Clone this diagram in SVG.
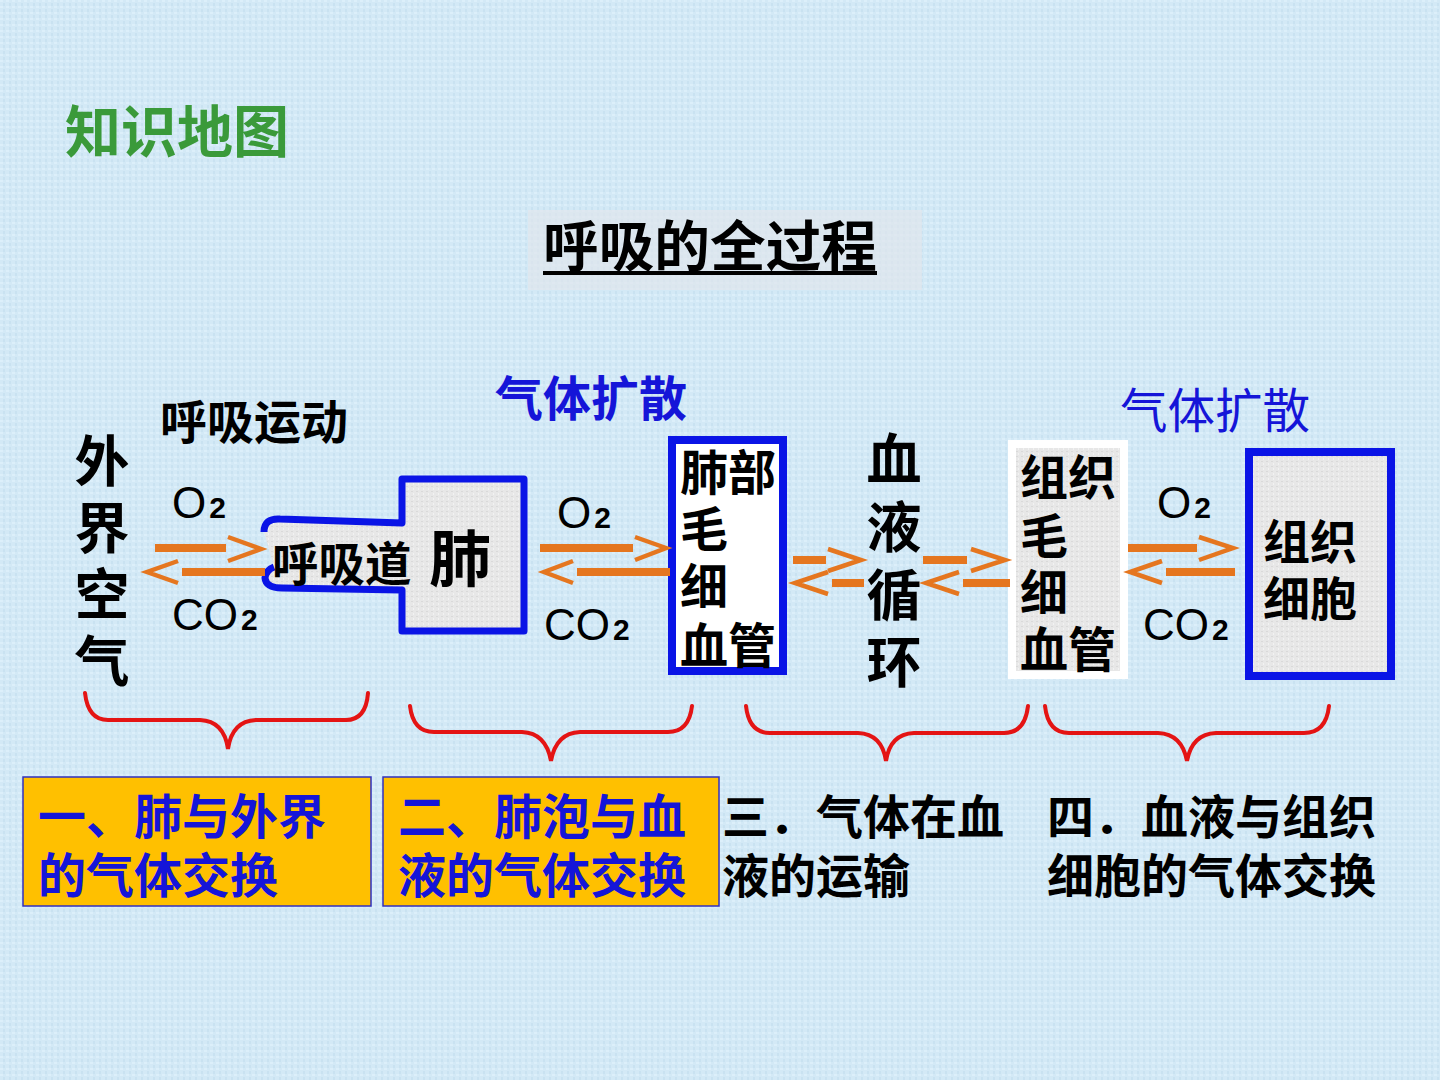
<svg xmlns="http://www.w3.org/2000/svg" width="1440" height="1080" viewBox="0 0 1440 1080">
  <defs>
    <pattern id="bgtex" width="6" height="6" patternUnits="userSpaceOnUse">
      <rect width="6" height="6" fill="#d3e9f6"/>
      <rect x="0" y="0" width="3" height="2" fill="#dcefFa"/>
      <rect x="3" y="3" width="2" height="3" fill="#c9e2f1"/>
    </pattern>
    <pattern id="greytex" width="5" height="5" patternUnits="userSpaceOnUse">
      <rect width="5" height="5" fill="#e7e7e7"/>
      <rect x="1" y="1" width="2" height="1" fill="#d9d9d9"/>
      <rect x="3" y="3" width="1" height="2" fill="#f2f2f2"/>
    </pattern>
    <style>
      .cjk { font-family: "Noto Sans CJK SC", "Noto Sans", sans-serif; }
      .b { font-weight: 700; }
      .blk { fill: #000; }
      .blue { fill: #1515d8; }
      .vert { writing-mode: vertical-rl; text-orientation: upright; }
      .lat { font-family: "Liberation Sans", Arial, sans-serif; fill: #000; }
      .sub { font-size: 30px; font-weight: 700; }
      .line { stroke: #e5761f; stroke-width: 8; fill: none; }
      .dash { stroke: #e5761f; stroke-width: 8; fill: none; }
      .chev { stroke: #e5761f; stroke-width: 4.5; fill: none; stroke-linejoin: miter; stroke-linecap: butt; }
      .brace { stroke: #e41414; stroke-width: 4; fill: none; stroke-linecap: round; }
      .ybox { fill: #ffc000; stroke: #3030c0; stroke-width: 1.5; }
    </style>
  </defs>

  <rect width="1440" height="1080" fill="url(#bgtex)"/>

  <g id="heading">
    <text x="65" y="152" class="cjk b" font-size="56" fill="#3a9a3a">知识地图</text>
  </g>

  <g id="title">
    <rect x="528" y="210" width="394" height="80" fill="#dfe5ec" opacity="0.7"/>
    <text x="543" y="266" class="cjk b blk" font-size="55" textLength="334" lengthAdjust="spacingAndGlyphs">呼吸的全过程</text>
    <rect x="543" y="271" width="334" height="4" fill="#000"/>
  </g>

  <g id="label-breathing">
    <text x="160" y="439" class="cjk b blk" font-size="47">呼吸运动</text>
  </g>

  <g id="label-diffusion-1">
    <text x="495" y="416" class="cjk b blue" font-size="48">气体扩散</text>
  </g>

  <g id="label-diffusion-2">
    <text x="1120" y="428" class="cjk blue" font-size="47.5">气体扩散</text>
  </g>

  <g id="node-outside-air">
    <text x="102" y="433" class="cjk b blk vert" font-size="55" letter-spacing="11.5">外界空气</text>
  </g>

  <g id="node-lung">
    <path d="M264,532 Q264,518 280,519 L402,523 L402,479 L524,479 L524,631 L402,631 L402,590 L282,588 Q266,588 265,578 Q266,570 274,567" fill="url(#greytex)" stroke="#0a14e6" stroke-width="7" stroke-linejoin="round"/>
    <text x="272" y="581" class="cjk b blk" font-size="46.5">呼吸道</text>
    <text x="429" y="582" class="cjk b blk" font-size="62">肺</text>
  </g>

  <g id="node-pulmonary-capillary">
    <rect x="672" y="440" width="111" height="231" fill="#ffffff" stroke="#0a14e6" stroke-width="8"/>
    <text class="cjk b blk" font-size="48"><tspan x="680" y="490">肺部</tspan><tspan x="680" y="547">毛</tspan><tspan x="680" y="604">细</tspan><tspan x="680" y="663">血管</tspan></text>
  </g>

  <g id="node-circulation">
    <text x="894" y="431" class="cjk b blk vert" font-size="55" letter-spacing="12.7">血液循环</text>
  </g>

  <g id="node-tissue-capillary">
    <rect x="1012" y="444" width="112" height="231" fill="url(#greytex)" stroke="#ffffff" stroke-width="8"/>
    <text class="cjk b blk" font-size="48"><tspan x="1020" y="495">组织</tspan><tspan x="1020" y="554">毛</tspan><tspan x="1020" y="610">细</tspan><tspan x="1020" y="667">血管</tspan></text>
  </g>

  <g id="node-tissue-cell">
    <rect x="1249" y="452" width="142" height="224" fill="url(#greytex)" stroke="#0a14e6" stroke-width="8"/>
    <text class="cjk b blk" font-size="47"><tspan x="1263" y="559">组织</tspan><tspan x="1263" y="616">细胞</tspan></text>
  </g>

  <g id="gas-labels">
    <text x="172" y="518" class="lat" font-size="44">O<tspan class="sub" dx="3">2</tspan></text>
    <text x="172" y="630" class="lat" font-size="44">CO<tspan class="sub" dx="3">2</tspan></text>
    <text x="557" y="528" class="lat" font-size="44">O<tspan class="sub" dx="3">2</tspan></text>
    <text x="544" y="640" class="lat" font-size="44">CO<tspan class="sub" dx="3">2</tspan></text>
    <text x="1157" y="518" class="lat" font-size="44">O<tspan class="sub" dx="3">2</tspan></text>
    <text x="1143" y="640" class="lat" font-size="44">CO<tspan class="sub" dx="3">2</tspan></text>
  </g>

  <g id="connectors">
    <line class="line" x1="155" y1="548" x2="226" y2="548"/>
    <polyline class="chev" points="228,537 261,549 228,561"/>
    <line class="line" x1="182" y1="572" x2="265" y2="572"/>
    <polyline class="chev" points="178,561 147,572 178,583"/>

    <line class="line" x1="540" y1="548" x2="633" y2="548"/>
    <polyline class="chev" points="635,537 666,548 635,560"/>
    <line class="line" x1="577" y1="572" x2="670" y2="572"/>
    <polyline class="chev" points="573,561 544,572 573,583"/>

    <line class="dash" x1="793" y1="560" x2="826" y2="560"/>
    <polyline class="chev" points="828,549 861,560 828,571"/>
    <line class="dash" x1="832" y1="583" x2="864" y2="583"/>
    <polyline class="chev" points="828,572 795,583 828,594"/>

    <line class="dash" x1="923" y1="560" x2="967" y2="560"/>
    <polyline class="chev" points="971,549 1005,560 971,571"/>
    <line class="dash" x1="963" y1="583" x2="1010" y2="583"/>
    <polyline class="chev" points="959,572 926,583 959,594"/>

    <line class="line" x1="1128" y1="548" x2="1197" y2="548"/>
    <polyline class="chev" points="1199,537 1233,548 1199,560"/>
    <line class="line" x1="1166" y1="572" x2="1235" y2="572"/>
    <polyline class="chev" points="1162,561 1130,572 1162,583"/>
  </g>

  <g id="braces">
    <path class="brace" d="M85,693 Q88,720 108,720 L200,720 Q224,721 228,749 Q232,721 256,720 L346,720 Q366,720 368,693"/>
    <path class="brace" d="M410,706 Q413,732 434,732 L522,732 Q546,733 551,761 Q556,733 580,732 L668,732 Q689,732 692,706"/>
    <path class="brace" d="M746,706 Q749,733 770,733 L858,733 Q882,734 886,761 Q890,734 914,733 L1004,733 Q1025,733 1028,706"/>
    <path class="brace" d="M1045,706 Q1048,733 1069,733 L1158,733 Q1182,734 1187,761 Q1192,734 1216,733 L1304,733 Q1326,733 1329,706"/>
  </g>

  <g id="stage-1">
    <rect class="ybox" x="23" y="777" width="348" height="129"/>
    <text class="cjk b blue" font-size="48"><tspan x="38" y="834">一、肺与外界</tspan><tspan x="38" y="893">的气体交换</tspan></text>
  </g>

  <g id="stage-2">
    <rect class="ybox" x="383" y="777" width="336" height="129"/>
    <text class="cjk b blue" font-size="48"><tspan x="398" y="834">二、肺泡与血</tspan><tspan x="398" y="893">液的气体交换</tspan></text>
  </g>

  <g id="stage-3">
    <text class="cjk b blk" font-size="47"><tspan x="722" y="834">三．气体在血</tspan><tspan x="722" y="893">液的运输</tspan></text>
  </g>

  <g id="stage-4">
    <text class="cjk b blk" font-size="47"><tspan x="1047" y="834">四．血液与组织</tspan><tspan x="1047" y="893">细胞的气体交换</tspan></text>
  </g>
</svg>
